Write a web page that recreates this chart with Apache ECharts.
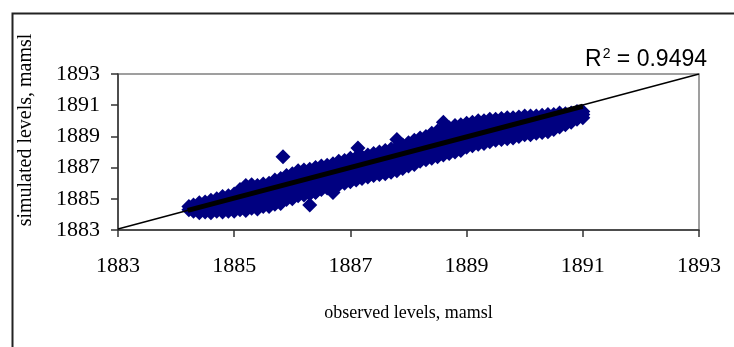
<!DOCTYPE html>
<html>
<head>
<meta charset="utf-8">
<script src="https://cdn.jsdelivr.net/npm/echarts@6/dist/echarts.min.js"></script>
<style>
  html, body { margin: 0; padding: 0; background: #fff; }
  #chart { width: 734px; height: 347px; }
</style>
</head>
<body>
<div id="chart"></div>
<script>
// observed level for each column of diamonds, and the simulated levels at it
const obsLevels = [
  1884.22, 1884.3, 1884.4, 1884.5, 1884.6, 1884.7, 1884.8, 1884.9, 1885.0, 1885.1,
  1885.2, 1885.3, 1885.4, 1885.5, 1885.6, 1885.7, 1885.84, 1885.8, 1885.9, 1886.0,
  1886.1, 1886.2, 1886.3, 1886.4, 1886.5, 1886.6, 1886.7, 1886.8, 1886.9, 1887.0,
  1887.13, 1887.1, 1887.2, 1887.3, 1887.4, 1887.5, 1887.6, 1887.7, 1887.8, 1887.9,
  1888.0, 1888.1, 1888.2, 1888.3, 1888.4, 1888.5, 1888.6, 1888.7, 1888.8, 1888.9,
  1889.0, 1889.1, 1889.2, 1889.3, 1889.4, 1889.5, 1889.6, 1889.7, 1889.8, 1889.9,
  1890.0, 1890.1, 1890.2, 1890.3, 1890.4, 1890.5, 1890.6, 1890.7, 1890.8, 1890.9,
  1891.0
];
const simLevels = [
  [1884.3, 1884.5],
  [1884.2, 1884.45, 1884.6],
  [1884.1, 1884.4, 1884.75],
  [1884.15, 1884.5, 1884.8],
  [1884.1, 1884.45, 1884.9],
  [1884.2, 1884.6, 1885.0],
  [1884.15, 1884.5, 1884.85, 1885.15],
  [1884.2, 1884.6, 1885.0, 1885.2],
  [1884.2, 1884.55, 1884.95, 1885.3],
  [1884.3, 1884.7, 1885.1, 1885.6],
  [1884.25, 1884.65, 1885.05, 1885.45, 1885.85],
  [1884.4, 1884.8, 1885.2, 1885.6, 1885.9],
  [1884.35, 1884.75, 1885.15, 1885.55, 1885.85],
  [1884.5, 1884.9, 1885.3, 1885.7, 1885.95],
  [1884.5, 1884.9, 1885.3, 1885.7, 1886.0],
  [1884.65, 1885.05, 1885.45, 1885.85, 1886.2],
  [1887.7],
  [1884.7, 1885.1, 1885.5, 1885.9, 1886.3],
  [1884.95, 1885.35, 1885.75, 1886.15, 1886.5],
  [1885.0, 1885.4, 1885.8, 1886.2, 1886.6],
  [1885.2, 1885.6, 1886.0, 1886.4, 1886.8],
  [1885.25, 1885.65, 1886.05, 1886.45, 1886.85],
  [1884.6, 1885.3, 1885.7, 1886.1, 1886.5, 1886.9],
  [1885.4, 1885.45, 1885.85, 1886.25, 1886.65, 1887.0],
  [1885.6, 1886.0, 1886.4, 1886.8, 1887.1],
  [1885.7, 1886.1, 1886.5, 1886.9, 1887.15],
  [1885.4, 1885.8, 1886.2, 1886.6, 1887.0, 1887.25],
  [1885.9, 1886.3, 1886.7, 1887.1, 1887.4],
  [1886.0, 1886.4, 1886.8, 1887.2, 1887.45],
  [1886.1, 1886.5, 1886.9, 1887.3, 1887.6],
  [1888.26],
  [1886.2, 1886.6, 1887.0, 1887.4, 1887.65],
  [1886.3, 1886.7, 1887.1, 1887.5, 1887.7],
  [1886.4, 1886.8, 1887.2, 1887.6, 1887.8],
  [1886.5, 1886.9, 1887.3, 1887.7, 1887.9],
  [1886.55, 1886.95, 1887.35, 1887.75, 1888.0],
  [1886.6, 1887.0, 1887.4, 1887.8, 1888.1],
  [1886.7, 1887.1, 1887.5, 1887.9, 1888.2],
  [1886.8, 1887.2, 1887.6, 1888.0, 1888.3, 1888.8],
  [1886.95, 1887.35, 1887.75, 1888.15, 1888.45],
  [1887.1, 1887.5, 1887.9, 1888.3, 1888.6],
  [1887.2, 1887.6, 1888.0, 1888.4, 1888.75],
  [1887.4, 1887.8, 1888.2, 1888.6, 1888.9],
  [1887.5, 1887.9, 1888.3, 1888.7, 1889.0],
  [1887.6, 1888.0, 1888.4, 1888.8, 1889.2],
  [1887.7, 1888.1, 1888.5, 1888.9, 1889.35],
  [1887.8, 1888.2, 1888.6, 1889.0, 1889.5, 1889.9],
  [1887.9, 1888.3, 1888.7, 1889.1, 1889.55],
  [1888.0, 1888.4, 1888.8, 1889.2, 1889.7],
  [1888.1, 1888.5, 1888.9, 1889.3, 1889.75],
  [1888.3, 1888.6, 1889.0, 1889.4, 1889.85],
  [1888.4, 1888.7, 1889.1, 1889.5, 1889.9],
  [1888.5, 1888.8, 1889.2, 1889.6, 1890.0],
  [1888.55, 1888.85, 1889.25, 1889.65, 1890.0],
  [1888.65, 1888.95, 1889.35, 1889.75, 1890.1],
  [1888.75, 1889.0, 1889.4, 1889.8, 1890.1],
  [1888.8, 1889.1, 1889.5, 1889.9, 1890.15],
  [1888.85, 1889.15, 1889.55, 1889.95, 1890.2],
  [1888.9, 1889.2, 1889.6, 1890.0, 1890.2],
  [1889.0, 1889.3, 1889.7, 1890.05, 1890.25],
  [1889.1, 1889.4, 1889.8, 1890.1, 1890.3],
  [1889.1, 1889.45, 1889.85, 1890.3],
  [1889.2, 1889.55, 1889.95, 1890.3],
  [1889.25, 1889.6, 1890.0, 1890.35],
  [1889.3, 1889.7, 1890.1, 1890.4],
  [1889.45, 1889.85, 1890.2, 1890.4],
  [1889.6, 1890.0, 1890.3, 1890.5],
  [1889.75, 1890.1, 1890.45],
  [1889.9, 1890.2, 1890.5],
  [1890.1, 1890.35, 1890.6],
  [1890.2, 1890.4, 1890.6]
];

// linear trendline (thin, full axis range) and its part over the data (thick)
const trendObs = [1883, 1893];
const trendSim = [1883.07, 1893.0];
const fitObs = [1884.2, 1891.0];
const fitSim = [1884.26, 1890.93];

const axisTicks = [1883, 1885, 1887, 1889, 1891, 1893];
const r2Label = '0.9494';

const points = [];
obsLevels.forEach(function (x, i) {
  simLevels[i].forEach(function (y) { points.push([x, y]); });
});

const myChart = echarts.init(document.getElementById('chart'));

const serif = '"Liberation Serif", "Times New Roman", serif';

function levelAxis(name, isX) {
  return {
    type: 'value',
    min: axisTicks[0],
    max: axisTicks[axisTicks.length - 1],
    interval: axisTicks[1] - axisTicks[0],
    name: name,
    nameLocation: 'middle',
    nameGap: 74,
    nameTextStyle: { fontFamily: serif, fontSize: 18, color: '#000' },
    axisLine: { show: true, onZero: false, lineStyle: { color: '#333', width: 1.5 } },
    axisTick: { show: true, inside: false, length: 7, lineStyle: { color: '#333', width: 1.5 } },
    axisLabel: {
      fontFamily: serif, fontSize: 22, color: '#000', margin: isX ? 25 : 18,
      formatter: function (v) { return String(v); }
    },
    splitLine: { show: false }
  };
}

const xAxis = levelAxis('observed levels, mamsl', true);
const yAxis = levelAxis('', false);

myChart.setOption({
  animation: false,
  backgroundColor: '#fff',
  grid: {
    left: 118, right: 35, top: 74, bottom: 117,
    show: true, borderColor: '#808080', borderWidth: 1.5, backgroundColor: '#fff'
  },
  xAxis: xAxis,
  yAxis: yAxis,
  graphic: [
    {
      type: 'rect', left: 10, top: 11, silent: true,
      shape: { width: 800, height: 400 },
      style: { fill: null, stroke: '#222', lineWidth: 2 }
    },
    {
      // y axis title sits a little above the plot's middle
      type: 'text', x: 26, y: 130, rotation: Math.PI / 2,
      style: {
        text: 'simulated levels, mamsl',
        fontFamily: serif, fontSize: 20, fill: '#000',
        align: 'center', verticalAlign: 'middle'
      }
    },
    {
      type: 'text', right: 27, top: 47,
      style: {
        text: '{r|R}{s|2}{r| = ' + r2Label + '}',
        rich: {
          r: { fontFamily: '"Liberation Sans", Arial, sans-serif', fontSize: 23, fill: '#000' },
          s: { fontFamily: '"Liberation Sans", Arial, sans-serif', fontSize: 14, fill: '#000', verticalAlign: 'top', padding: [0, 0, 12, 1] }
        }
      }
    }
  ],
  series: [
    {
      type: 'scatter',
      symbol: 'diamond',
      symbolSize: 15,
      itemStyle: { color: '#000080', opacity: 1 },
      data: points,
      z: 2
    },
    {
      type: 'line',
      data: trendObs.map(function (x, i) { return [x, trendSim[i]]; }),
      showSymbol: false,
      lineStyle: { color: '#000', width: 1.5 },
      z: 3
    },
    {
      type: 'line',
      data: fitObs.map(function (x, i) { return [x, fitSim[i]]; }),
      showSymbol: false,
      lineStyle: { color: '#000', width: 5 },
      z: 4
    }
  ]
});
</script>
</body>
</html>
